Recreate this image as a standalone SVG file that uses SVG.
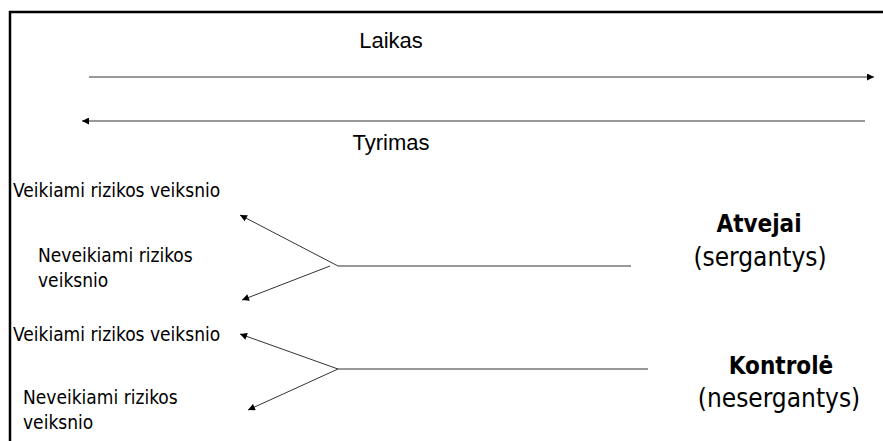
<svg xmlns="http://www.w3.org/2000/svg" width="883" height="441" viewBox="0 0 883 441">
<style>
.t1{font-family:"Liberation Sans",Arial,sans-serif;font-size:22px;fill:#000}
.t2{font-family:"DejaVu Sans Condensed","DejaVu Sans",sans-serif;font-size:19px;fill:#000}
.tb{font-family:"DejaVu Sans Condensed","DejaVu Sans",sans-serif;font-size:24px;font-weight:bold;fill:#000}
.tr{font-family:"DejaVu Sans Condensed","DejaVu Sans",sans-serif;font-size:26px;fill:#000}
.ln{stroke:#333;stroke-width:1;fill:none}
.lg{stroke:#999;stroke-width:2;fill:none}
</style>
<defs>
<marker id="ah" viewBox="0 0 10 10" refX="10" refY="5" markerWidth="9" markerHeight="7" markerUnits="userSpaceOnUse" orient="auto">
<path d="M0,0 L10,5 L0,10 Z" fill="#000"/>
</marker>
</defs>
<rect width="883" height="441" fill="#fff"/>
<path d="M10,441 V12 H883" fill="none" stroke="#000" stroke-width="2.5"/>
<g id="laikas"><text class="t1" x="391" y="48" text-anchor="middle">Laikas</text></g>
<g id="tyrimas"><text class="t1" x="391" y="150" text-anchor="middle">Tyrimas</text></g>
<g id="exposed1"><text class="t2" x="13" y="197">Veikiami rizikos veiksnio</text></g>
<g id="unexposed1"><text class="t2" x="38" y="262">Neveikiami rizikos</text><text class="t2" x="38" y="287">veiksnio</text></g>
<g id="exposed2"><text class="t2" x="13" y="341">Veikiami rizikos veiksnio</text></g>
<g id="unexposed2"><text class="t2" x="23" y="404">Neveikiami rizikos</text><text class="t2" x="23" y="429">veiksnio</text></g>
<g id="cases"><text class="tb" x="759" y="232" text-anchor="middle">Atvejai</text><text class="tr" x="760" y="266" text-anchor="middle">(sergantys)</text></g>
<g id="controls"><text class="tb" x="781" y="374" text-anchor="middle">Kontrolė</text><text class="tr" x="779" y="407" text-anchor="middle">(nesergantys)</text></g>
<g id="connectors">
<line class="ln" x1="89" y1="77" x2="874" y2="77" marker-end="url(#ah)"/>
<line class="lg" x1="865" y1="121" x2="82" y2="121" marker-end="url(#ah)"/>
<line class="ln" x1="338" y1="266" x2="631" y2="266"/>
<line class="ln" x1="338" y1="266" x2="240" y2="215" marker-end="url(#ah)"/>
<line class="ln" x1="330" y1="266" x2="242" y2="300" marker-end="url(#ah)"/>
<line class="ln" x1="338" y1="369" x2="648" y2="369"/>
<line class="ln" x1="338" y1="369" x2="240" y2="334" marker-end="url(#ah)"/>
<line class="ln" x1="338" y1="369" x2="248" y2="410" marker-end="url(#ah)"/>
</g>
</svg>
